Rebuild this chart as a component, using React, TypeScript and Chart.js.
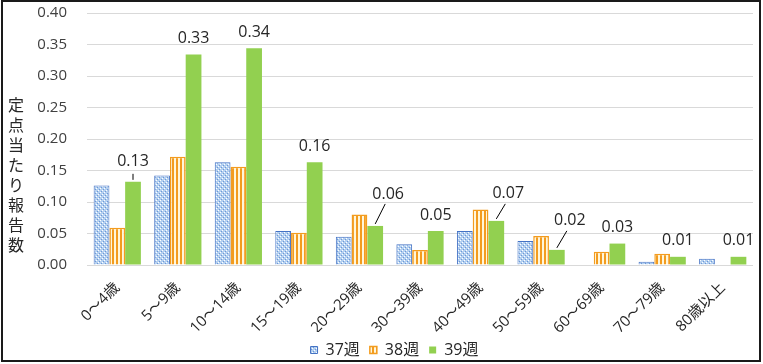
import React, { useEffect, useRef } from "react";
import { Chart, registerables } from "chart.js";

Chart.register(...registerables);

const categories = ["0～4歳", "5～9歳", "10～14歳", "15～19歳", "20～29歳", "30～39歳", "40～49歳", "50～59歳", "60～69歳", "70～79歳", "80歳以上"];
const seriesNames = ["37週", "38週", "39週"];
const week37 = [0.126, 0.142, 0.163, 0.054, 0.045, 0.033, 0.054, 0.038, 0, 0.005, 0.010];
const week38 = [0.059, 0.172, 0.156, 0.051, 0.080, 0.024, 0.088, 0.046, 0.021, 0.018, 0];
const week39 = [0.132, 0.334, 0.344, 0.163, 0.062, 0.054, 0.070, 0.024, 0.034, 0.013, 0.013];
const yTitle = "定点当たり報告数";

const FONT = "'Open Sans', 'Noto Sans CJK JP', sans-serif";

function makeDotPattern(): CanvasPattern | string {
  const c = document.createElement("canvas");
  c.width = 4;
  c.height = 4;
  const g = c.getContext("2d");
  if (!g) return "#9CC0EA";
  g.fillStyle = "#B4D0F0";
  g.fillRect(0, 0, 4, 4);
  g.fillStyle = "#FFFFFF";
  g.fillRect(0, 0, 1, 1);
  g.fillRect(2, 2, 1, 1);
  g.fillStyle = "#6E98D6";
  g.fillRect(1, 3, 1, 1);
  g.fillRect(3, 1, 1, 1);
  return g.createPattern(c, "repeat") || "#9CC0EA";
}

function makeStripePattern(): CanvasPattern | string {
  const c = document.createElement("canvas");
  c.width = 4;
  c.height = 4;
  const g = c.getContext("2d");
  if (!g) return "#F5A623";
  g.fillStyle = "#FFF6DA";
  g.fillRect(0, 0, 4, 4);
  g.fillStyle = "#F39C1F";
  g.fillRect(0, 0, 2, 4);
  return g.createPattern(c, "repeat") || "#F5A623";
}

const leaderOffsets: Record<number, [number, number]> = {
  0: [0, 20],
  4: [13, 32],
  6: [12, 27],
  7: [13, 29],
};

const valueLabelPlugin = {
  id: "valueLabels",
  afterDatasetsDraw(chart: any) {
    const meta = chart.getDatasetMeta(2);
    const ctx = chart.ctx as CanvasRenderingContext2D;
    ctx.save();
    ctx.font = `16px ${FONT}`;
    ctx.fillStyle = "#262626";
    ctx.textAlign = "center";
    ctx.textBaseline = "middle";
    meta.data.forEach((bar: any, i: number) => {
      const v = week39[i];
      const off = leaderOffsets[i];
      const x = bar.x + (off ? off[0] : 0);
      const y = bar.y - (off ? off[1] : 16);
      ctx.fillText(v.toFixed(2), x, y);
      if (off) {
        ctx.beginPath();
        ctx.strokeStyle = "#000000";
        ctx.lineWidth = 1;
        const ex = off[0] === 0 ? x : x - 3;
        const ey = off[0] === 0 ? y + 12 : y + 10;
        ctx.moveTo(bar.x, bar.y - 2);
        ctx.lineTo(ex, ey);
        ctx.stroke();
      }
    });
    ctx.restore();
  },
};

const yTitlePlugin = {
  id: "yTitleVertical",
  afterDraw(chart: any) {
    const ctx = chart.ctx as CanvasRenderingContext2D;
    const area = chart.chartArea;
    ctx.save();
    ctx.font = `16px 'Noto Sans CJK JP', sans-serif`;
    ctx.fillStyle = "#262626";
    ctx.textAlign = "center";
    ctx.textBaseline = "middle";
    const chars = Array.from(yTitle);
    const step = 20;
    const startY = area.top + 92;
    chars.forEach((ch, i) => {
      ctx.fillText(ch, 16, startY + i * step);
    });
    ctx.restore();
  },
};

export default function App() {
  const ref = useRef<HTMLCanvasElement | null>(null);

  useEffect(() => {
    if (!ref.current) return;
    const dots = makeDotPattern();
    const stripes = makeStripePattern();
    const chart = new Chart(ref.current, {
      type: "bar",
      data: {
        labels: categories,
        datasets: [
          {
            label: seriesNames[0],
            data: week37,
            backgroundColor: dots as any,
            borderColor: "#4472C4",
            borderWidth: 1,
          },
          {
            label: seriesNames[1],
            data: week38,
            backgroundColor: stripes as any,
            borderColor: "#F39C1F",
            borderWidth: 1.5,
          },
          {
            label: seriesNames[2],
            data: week39,
            backgroundColor: "#92D050",
            borderColor: "#92D050",
            borderWidth: 0,
          },
        ],
      },
      options: {
        animation: false,
        responsive: false,
        maintainAspectRatio: false,
        layout: { padding: { left: 36, top: 13, right: 10, bottom: -4 } },
        datasets: { bar: { categoryPercentage: 0.78, barPercentage: 1.0 } },
        plugins: {
          legend: {
            position: "bottom",
            labels: {
              boxWidth: 7,
              boxHeight: 7,
              padding: 10,
              color: "#262626",
              font: { family: FONT, size: 16 },
            },
          },
          tooltip: { enabled: false },
        },
        scales: {
          x: {
            grid: { display: false, drawTicks: false },
            border: { display: false },
            afterFit: (scale: any) => {
              scale.paddingLeft = 0;
              scale.paddingRight = 0;
              scale.height = 67;
            },
            ticks: {
              minRotation: 45,
              maxRotation: 45,
              padding: 14,
              color: "#262626",
              font: { family: FONT, size: 15 },
            },
          },
          y: {
            min: 0,
            max: 0.4,
            grid: { color: "#D9D9D9", drawTicks: false },
            border: { display: false },
            afterFit: (scale: any) => {
              scale.width = 51;
              scale.paddingTop = 0;
              scale.paddingBottom = 0;
            },
            ticks: {
              stepSize: 0.05,
              padding: 20,
              color: "#404040",
              font: { family: FONT, size: 15 },
              callback: (v: any) => Number(v).toFixed(2),
            },
          },
        },
      },
      plugins: [valueLabelPlugin, yTitlePlugin],
    });
    return () => chart.destroy();
  }, []);

  return (
    <div style={{ position: "absolute", left: 0, top: 0, width: 763, height: 364, background: "#fff" }}>
      <canvas ref={ref} width={763} height={364} style={{ position: "absolute", left: 0, top: 0, width: 763, height: 364 }} />
      <div
        style={{
          position: "absolute",
          left: 1,
          top: 0,
          width: 760,
          height: 362,
          border: "2px solid #1a1a1a",
          boxSizing: "border-box",
          pointerEvents: "none",
        }}
      />
    </div>
  );
}
